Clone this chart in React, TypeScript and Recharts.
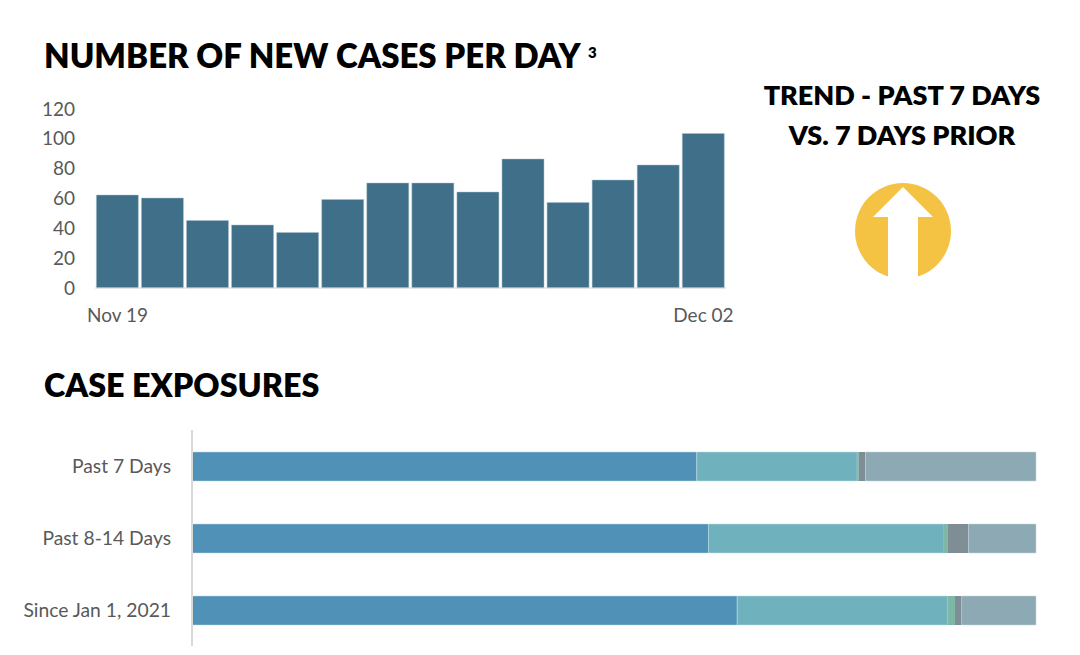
import { BarChart, Bar, XAxis, YAxis } from "recharts";

const days = ["Nov 19", "Nov 20", "Nov 21", "Nov 22", "Nov 23", "Nov 24", "Nov 25", "Nov 26", "Nov 27", "Nov 28", "Nov 29", "Nov 30", "Dec 01", "Dec 02"];
const newCases = [62, 60, 45, 42, 37, 59, 70, 70, 64, 86, 57, 72, 82, 103];
const caseTicks = [0, 20, 40, 60, 80, 100, 120];
const dayTicks = ["Nov 19", "Dec 02"];

const periods = ["Past 7 Days", "Past 8-14 Days", "Since Jan 1, 2021"];
const exposureA = [59.8, 61.2, 64.6];
const exposureB = [19.0, 27.9, 24.9];
const exposureC = [0.2, 0.4, 0.9];
const exposureD = [0.8, 2.5, 0.8];
const exposureE = [20.2, 8.0, 8.8];

const caseData = days.map((day, i) => ({ day, cases: newCases[i] }));
const exposureData = periods.map((period, i) => ({
  period,
  a: exposureA[i],
  b: exposureB[i],
  c: exposureC[i],
  d: exposureD[i],
  e: exposureE[i],
}));

const FONT = "Lato, 'Open Sans', sans-serif";
const GREY = "#595959";

const titleStyle = {
  position: "absolute" as const,
  margin: 0,
  fontFamily: FONT,
  fontWeight: 800,
  color: "#000",
  whiteSpace: "nowrap" as const,
};

const App = () => {
  return (
    <div style={{ position: "absolute", left: 0, top: 0, width: 1080, height: 655, background: "#fff", overflow: "hidden" }}>
      <div style={{ ...titleStyle, left: 44, top: 35, fontSize: 33, lineHeight: "40px" }}>NUMBER OF NEW CASES PER DAY</div>
      <div style={{ ...titleStyle, left: 588, top: 44, fontSize: 15, lineHeight: "16px" }}>3</div>
      <div style={{ ...titleStyle, left: 44, top: 365, fontSize: 32.3, lineHeight: "40px" }}>CASE EXPOSURES</div>
      <div style={{ ...titleStyle, left: 742, width: 320, top: 75, fontSize: 27, lineHeight: "40px", textAlign: "center" }}>
        TREND - PAST 7 DAYS
        <br />
        VS. 7 DAYS PRIOR
      </div>

      {/* Trend arrow */}
      <svg style={{ position: "absolute", left: 850, top: 178 }} width={106} height={106}>
        <circle cx={53} cy={53} r={48} fill="#f5c344" />
        <polygon points="53,9 83,39 68,39 68,106 38,106 38,39 23,39" fill="#fff" />
      </svg>

      <div style={{ position: "absolute", left: 0, top: 98 }}>
        <BarChart width={740} height={240} data={caseData} margin={{ top: 10, right: 14, bottom: 0, left: 0 }} barCategoryGap="3%">
          <XAxis
            dataKey="day"
            ticks={dayTicks}
            interval={0}
            height={50}
            tickLine={false}
            tickSize={0}
            tickMargin={21}
            stroke="#d9d9d9"
            tick={{ fill: GREY, fontSize: 19, fontFamily: FONT }}
          />
          <YAxis
            width={95}
            domain={[0, 120]}
            ticks={caseTicks}
            axisLine={false}
            tickLine={false}
            tickSize={0}
            tickMargin={20}
            tick={{ fill: GREY, fontSize: 19, fontFamily: FONT }}
          />
          <Bar dataKey="cases" fill="#3f6f89" stroke="#a9c0cd" strokeWidth={0.5} isAnimationActive={false} />
        </BarChart>
      </div>

      <div style={{ position: "absolute", left: 0, top: 430 }}>
        <BarChart width={1050} height={216} data={exposureData} layout="vertical" margin={{ top: 0, right: 14, bottom: 0, left: 0 }} barSize={29}>
          <XAxis type="number" domain={[0, 100]} hide />
          <YAxis
            type="category"
            dataKey="period"
            width={192}
            tickLine={false}
            tickSize={0}
            tickMargin={21}
            stroke="#d9d9d9"
            strokeWidth={2}
            tick={{ fill: GREY, fontSize: 19.3, fontFamily: FONT }}
          />
          <Bar dataKey="a" stackId="exposure" fill="#5091b7" stroke="#bcd6e4" strokeWidth={0.5} isAnimationActive={false} />
          <Bar dataKey="b" stackId="exposure" fill="#6fb1bc" stroke="#c2dfe3" strokeWidth={0.5} isAnimationActive={false} />
          <Bar dataKey="c" stackId="exposure" fill="#7db8a6" isAnimationActive={false} />
          <Bar dataKey="d" stackId="exposure" fill="#7f8e94" isAnimationActive={false} />
          <Bar dataKey="e" stackId="exposure" fill="#8ca9b4" stroke="#c6d4da" strokeWidth={0.5} isAnimationActive={false} />
        </BarChart>
      </div>
    </div>
  );
};

export default App;
